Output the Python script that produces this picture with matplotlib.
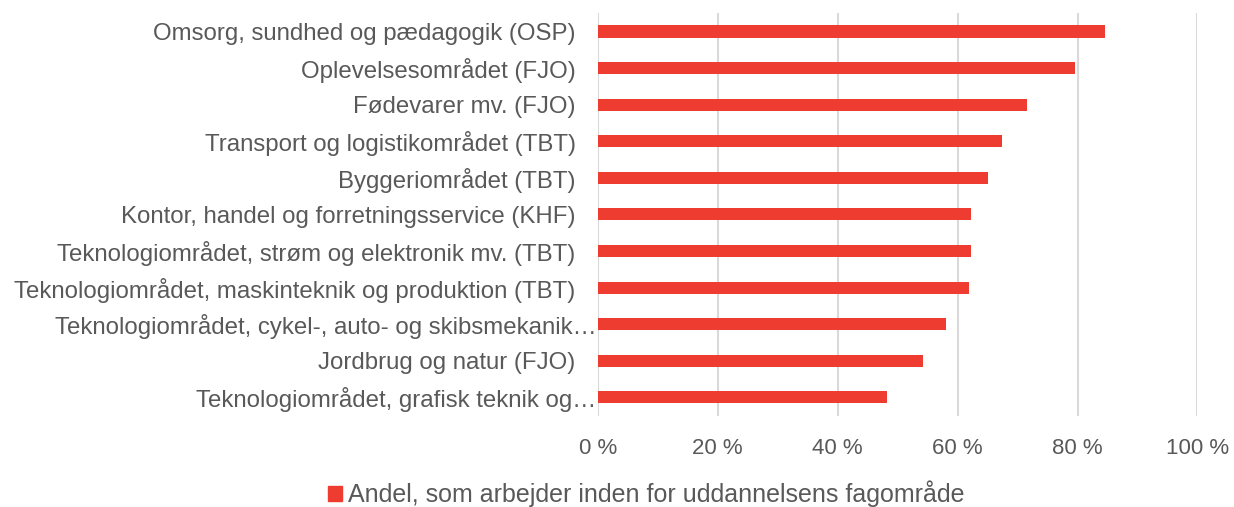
import matplotlib.pyplot as plt
import matplotlib.transforms as mtransforms
from matplotlib.patches import Patch

plt.rcParams['font.family'] = ['Liberation Sans', 'DejaVu Sans']

# Data (top to bottom as shown)
categories = [
    "Omsorg, sundhed og pædagogik (OSP)",
    "Oplevelsesområdet (FJO)",
    "Fødevarer mv. (FJO)",
    "Transport og logistikområdet (TBT)",
    "Byggeriområdet (TBT)",
    "Kontor, handel og forretningsservice (KHF)",
    "Teknologiområdet, strøm og elektronik mv. (TBT)",
    "Teknologiområdet, maskinteknik og produktion (TBT)",
    "Teknologiområdet, cykel-, auto- og skibsmekanik…",
    "Jordbrug og natur (FJO)",
    "Teknologiområdet, grafisk teknik og…",
]
values = [84.5, 79.5, 71.6, 67.4, 65.1, 62.3, 62.2, 61.9, 58.0, 54.2, 48.2]
xticks = [0, 20, 40, 60, 80, 100]
legend_label = "Andel, som arbejder inden for uddannelsens fagområde"

bar_color = "#EE3D30"
text_color = "#595959"

fig = plt.figure(figsize=(12.34, 5.07), dpi=100)
ax = fig.add_axes([0.4844, 0.180, 0.486, 0.794])

y = list(range(len(categories)))[::-1]
ax.barh(y, values, height=0.33, color=bar_color, zorder=3)

ax.set_xlim(0, 100)
ax.set_ylim(-0.5, len(categories) - 0.5)
ax.set_xticks(xticks)
ax.set_xticklabels([f"{t} %" for t in xticks])
ax.set_yticks(y)
ax.set_yticklabels(categories)

ax.grid(axis="x", color="#d9d9d9", linewidth=1.5, zorder=0)
for s in ax.spines.values():
    s.set_visible(False)
ax.tick_params(axis="y", length=0, labelsize=17.3, colors=text_color, pad=16)
ax.tick_params(axis="x", length=0, labelsize=16, colors=text_color, pad=16)

# truncated labels run right up to the axis in the original
shift = mtransforms.ScaledTranslation(0.21, 0, fig.dpi_scale_trans)
for lbl in ax.get_yticklabels():
    if lbl.get_text().endswith("…"):
        lbl.set_transform(lbl.get_transform() + shift)

fig.legend(handles=[Patch(color=bar_color)], labels=[legend_label],
           loc="center", bbox_to_anchor=(0.524, 0.026), frameon=False,
           fontsize=18, labelcolor=text_color, handlelength=0.55,
           handleheight=0.55, handletextpad=0.25, borderpad=0)

fig.savefig("out.png", dpi=100)
